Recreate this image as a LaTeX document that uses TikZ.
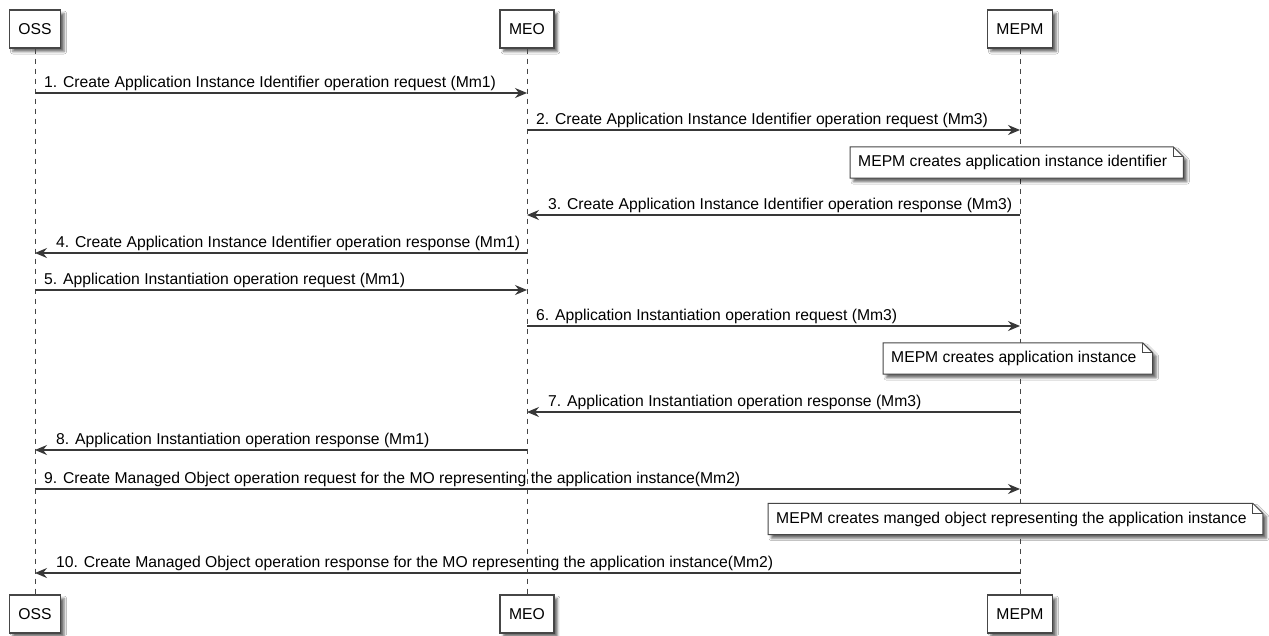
\documentclass[tikz,border=0pt]{standalone}
\usepackage{fontspec}
\setmainfont{Liberation Sans}
\usetikzlibrary{arrows.meta,shadows.blur}
\definecolor{edge}{RGB}{70,70,70}
\definecolor{arr}{RGB}{56,56,56}
\tikzset{
  part/.style={draw=edge, line width=1.4pt, fill=white, minimum height=38pt, inner xsep=9pt, inner ysep=0pt,
    font=\fontsize{15.7}{18}\selectfont,
    blur shadow={shadow xshift=3.5pt, shadow yshift=-3.5pt, shadow blur radius=2.5pt, shadow opacity=60}},
  life/.style={draw=edge, line width=1pt, dash pattern=on 5pt off 5pt},
  msg/.style={draw=arr, line width=1.1pt, -{Stealth[length=12pt,width=10pt,inset=4pt]}},
  lbl/.style={inner sep=0pt, anchor=base west, font=\fontsize{15.7}{18}\selectfont},
  notetext/.style={inner xsep=8pt, inner ysep=0pt, minimum height=31pt, anchor=west, font=\fontsize{15.7}{18}\selectfont},
  noteshape/.style={draw=edge, line width=1pt, fill=white,
    blur shadow={shadow xshift=3.5pt, shadow yshift=-3.5pt, shadow blur radius=2.5pt, shadow opacity=60}},
  fold/.style={draw=edge, line width=1pt}
}
\newcommand{\notebox}[1]{%
  \path[noteshape] (#1.north west) -- ([xshift=-2pt]#1.north east) -- ([xshift=8pt,yshift=-10pt]#1.north east)
    -- ([xshift=8pt]#1.south east) -- (#1.south west) -- cycle;
  \draw[fold] ([xshift=-2pt]#1.north east) -- ([xshift=-2pt,yshift=-10pt]#1.north east) -- ([xshift=8pt,yshift=-10pt]#1.north east);
}
\begin{document}
\begin{tikzpicture}[x=1pt,y=-1pt]
\useasboundingbox (0,0) rectangle (1269,635);
\fill[white] (0,0) rectangle (1269,635);
% participants
\node[part] (oss) at (35,29) {OSS};
\node[part] (meo) at (527,29) {MEO};
\node[part] (mepm) at (1020,29) {MEPM};
\node[part] (ossb) at (35,614) {OSS};
\node[part] (meob) at (527,614) {MEO};
\node[part] (mepmb) at (1020,614) {MEPM};
% lifelines
\draw[life] (oss) -- (ossb);
\draw[life] (meo) -- (meob);
\draw[life] (mepm) -- (mepmb);
% messages
\draw[msg] (oss |- 0,93) -- (meo |- 0,93);
\node[lbl] (t1) at ([xshift=9pt]oss |- 0,87) {1. Create Application Instance Identifier operation request (Mm1)};
\draw[msg] (meo |- 0,130) -- (mepm |- 0,130);
\node[lbl] (t2) at ([xshift=9pt]meo |- 0,124) {2. Create Application Instance Identifier operation request (Mm3)};
% note 1
\node[notetext] (n1) at (850,162.5) {\phantom{MEPM creates application instance identifier}};
\notebox{n1}
\node[notetext] (n1t) at (850,162.5) {MEPM creates application instance identifier};
\draw[msg] (mepm |- 0,215) -- (meo |- 0,215);
\node[lbl] (t3) at ([xshift=21pt]meo |- 0,209) {3. Create Application Instance Identifier operation response (Mm3)};
\draw[msg] (meo |- 0,253) -- (oss |- 0,253);
\node[lbl] (t4) at ([xshift=21pt]oss |- 0,247) {4. Create Application Instance Identifier operation response (Mm1)};
\draw[msg] (oss |- 0,290) -- (meo |- 0,290);
\node[lbl] (t5) at ([xshift=9pt]oss |- 0,284) {5. Application Instantiation operation request (Mm1)};
\draw[msg] (meo |- 0,326) -- (mepm |- 0,326);
\node[lbl] (t6) at ([xshift=9pt]meo |- 0,320) {6. Application Instantiation operation request (Mm3)};
% note 2
\node[notetext] (n2) at (883,358.5) {\phantom{MEPM creates application instance}};
\notebox{n2}
\node[notetext] (n2t) at (883,358.5) {MEPM creates application instance};
\draw[msg] (mepm |- 0,412) -- (meo |- 0,412);
\node[lbl] (t7) at ([xshift=21pt]meo |- 0,406) {7. Application Instantiation operation response (Mm3)};
\draw[msg] (meo |- 0,450) -- (oss |- 0,450);
\node[lbl] (t8) at ([xshift=21pt]oss |- 0,444) {8. Application Instantiation operation response (Mm1)};
\draw[msg] (oss |- 0,489) -- (mepm |- 0,489);
\node[lbl] (t9) at ([xshift=9pt]oss |- 0,483) {9. Create Managed Object operation request for the MO representing the application instance(Mm2)};
% note 3
\node[notetext] (n3) at (768,519) {\phantom{MEPM creates manged object representing the application instance}};
\notebox{n3}
\node[notetext] (n3t) at (768,519) {MEPM creates manged object representing the application instance};
\draw[msg] (mepm |- 0,573) -- (oss |- 0,573);
\node[lbl] (t10) at ([xshift=21pt]oss |- 0,567) {10. Create Managed Object operation response for the MO representing the application instance(Mm2)};
\end{tikzpicture}
\end{document}
